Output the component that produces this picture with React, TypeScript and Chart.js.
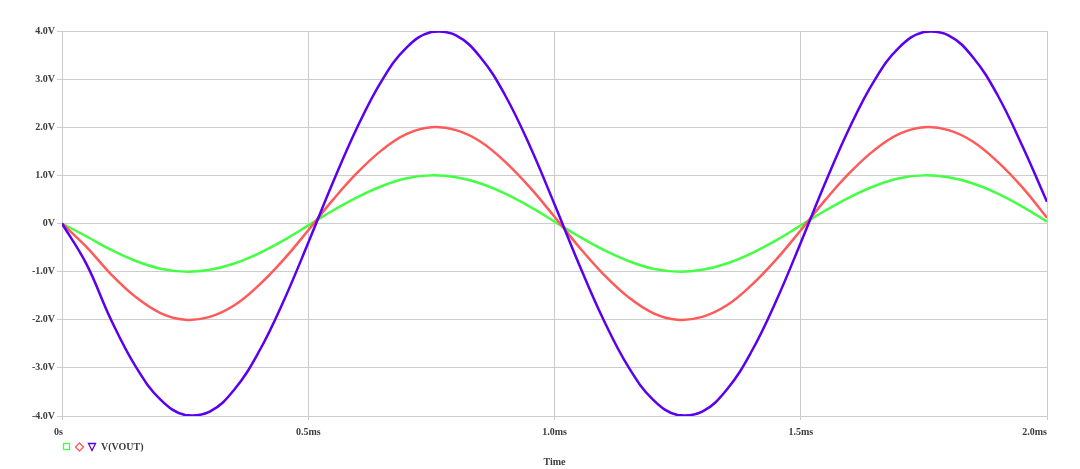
import React, { useEffect, useRef } from "react";
import { Chart, registerables } from "chart.js";

Chart.register(...registerables);

const timeMs = [
  0, 0.05, 0.1, 0.15, 0.2, 0.25, 0.3, 0.35, 0.4, 0.45, 0.5,
  0.55, 0.6, 0.65, 0.7, 0.75, 0.8, 0.85, 0.9, 0.95, 1.0,
  1.05, 1.1, 1.15, 1.2, 1.25, 1.3, 1.35, 1.4, 1.45, 1.5,
  1.55, 1.6, 1.65, 1.7, 1.75, 1.8, 1.85, 1.9, 1.95, 2.0,
];

const vGreen = [
  0, -0.27, -0.55, -0.78, -0.94, -1.0, -0.96, -0.83, -0.62, -0.35, -0.04,
  0.27, 0.55, 0.78, 0.94, 1.0, 0.96, 0.83, 0.62, 0.35, 0.04,
  -0.27, -0.55, -0.78, -0.94, -1.0, -0.96, -0.83, -0.62, -0.35, -0.04,
  0.27, 0.55, 0.78, 0.94, 1.0, 0.96, 0.83, 0.62, 0.35, 0.04,
];

const vRed = [
  0, -0.49, -1.06, -1.53, -1.86, -2.0, -1.94, -1.7, -1.28, -0.75, -0.14,
  0.49, 1.06, 1.53, 1.86, 2.0, 1.94, 1.7, 1.28, 0.75, 0.14,
  -0.49, -1.06, -1.53, -1.86, -2.0, -1.94, -1.7, -1.28, -0.75, -0.14,
  0.49, 1.06, 1.53, 1.86, 2.0, 1.94, 1.7, 1.28, 0.75, 0.12,
];

const vBlue = [
  0, -0.85, -2.01, -2.98, -3.66, -3.98, -3.91, -3.45, -2.66, -1.61, -0.4,
  0.85, 2.01, 2.98, 3.66, 3.98, 3.91, 3.45, 2.66, 1.61, 0.4,
  -0.85, -2.01, -2.98, -3.66, -3.98, -3.91, -3.45, -2.66, -1.61, -0.4,
  0.85, 2.01, 2.98, 3.66, 3.98, 3.91, 3.45, 2.66, 1.61, 0.45,
];

const xTickValues = [0, 0.5, 1.0, 1.5, 2.0];
const xTickLabels = ["0s", "0.5ms", "1.0ms", "1.5ms", "2.0ms"];
const yTickValues = [-4, -3, -2, -1, 0, 1, 2, 3, 4];
const yTickLabels = ["-4.0V", "-3.0V", "-2.0V", "-1.0V", "0V", "1.0V", "2.0V", "3.0V", "4.0V"];
const xAxisTitle = "Time";
const legendText = "V(VOUT)";

const GREEN = "#44ff44";
const RED = "#ff5a5a";
const BLUE = "#5a00f0";
const GRID = "#cccccc";
const TEXT = "#3c3c3c";
const FONT = "bold 10px 'Liberation Serif', 'DejaVu Serif', serif";

export default function App() {
  const ref = useRef<HTMLCanvasElement | null>(null);

  useEffect(() => {
    if (!ref.current) return;
    const toPts = (ys: number[]) => timeMs.map((t, i) => ({ x: t, y: ys[i] }));

    const overlay = {
      id: "overlay",
      afterDraw(chart: any) {
        const ctx = chart.ctx;
        const xs = chart.scales.x;
        const area = chart.chartArea;
        ctx.save();
        ctx.font = FONT;
        ctx.fillStyle = TEXT;
        ctx.textBaseline = "middle";
        xTickValues.forEach((v, i) => {
          const px = xs.getPixelForValue(v);
          if (i === 0) ctx.textAlign = "right";
          else if (i === xTickValues.length - 1) ctx.textAlign = "right";
          else ctx.textAlign = "center";
          const dx = i === 0 ? 1 : 0;
          ctx.fillText(xTickLabels[i], px + dx, area.bottom + 16);
        });
        // title
        ctx.textAlign = "center";
        ctx.fillText(xAxisTitle, (area.left + area.right) / 2, 462);
        // legend
        const ly = 447;
        ctx.lineWidth = 1.3;
        ctx.strokeStyle = GREEN;
        ctx.strokeRect(63.5, ly - 3.5, 6, 6);
        ctx.strokeStyle = RED;
        ctx.beginPath();
        ctx.moveTo(79.5, ly - 4);
        ctx.lineTo(83.5, ly);
        ctx.lineTo(79.5, ly + 4);
        ctx.lineTo(75.5, ly);
        ctx.closePath();
        ctx.stroke();
        ctx.strokeStyle = BLUE;
        ctx.beginPath();
        ctx.moveTo(88.5, ly - 3.5);
        ctx.lineTo(95.5, ly - 3.5);
        ctx.lineTo(92, ly + 3.5);
        ctx.closePath();
        ctx.stroke();
        ctx.textAlign = "left";
        ctx.fillStyle = TEXT;
        ctx.fillText(legendText, 101, ly);
        ctx.restore();
      },
    };

    const ds = (label: string, ys: number[], color: string) => ({
      label,
      data: toPts(ys),
      borderColor: color,
      borderWidth: 2.5,
      pointRadius: 0,
      tension: 0.4,
    });

    const chart = new Chart(ref.current, {
      type: "line",
      data: {
        datasets: [ds("blue", vBlue, BLUE), ds("red", vRed, RED), ds("green", vGreen, GREEN)],
      },
      options: {
        animation: false,
        responsive: false,
        devicePixelRatio: 1,
        layout: { padding: { top: 31, right: 33, left: 0, bottom: 0 } },
        plugins: { legend: { display: false }, tooltip: { enabled: false } },
        scales: {
          x: {
            type: "linear",
            min: 0,
            max: 2,
            afterBuildTicks: (s: any) => {
              s.ticks = xTickValues.map((v) => ({ value: v }));
            },
            afterFit: (s: any) => {
              s.height = 53;
            },
            ticks: { display: false },
            grid: { color: GRID, tickLength: 4, lineWidth: 1 },
            border: { color: GRID },
          },
          y: {
            type: "linear",
            min: -4,
            max: 4,
            afterBuildTicks: (s: any) => {
              s.ticks = yTickValues.map((v) => ({ value: v }));
            },
            afterFit: (s: any) => {
              s.width = 62;
            },
            ticks: {
              color: TEXT,
              font: { family: "'Liberation Serif', 'DejaVu Serif', serif", size: 10, weight: "bold" },
              padding: 2,
              callback: (v: any) => {
                const idx = yTickValues.indexOf(Number(v));
                return idx >= 0 ? yTickLabels[idx] : "";
              },
            },
            grid: { color: GRID, tickLength: 5, lineWidth: 1 },
            border: { color: GRID },
          },
        },
      },
      plugins: [overlay],
    } as any);

    return () => chart.destroy();
  }, []);

  return (
    <div style={{ position: "absolute", left: 0, top: 0, width: 1080, height: 469, background: "#ffffff" }}>
      <canvas ref={ref} width={1080} height={469} style={{ display: "block" }} />
    </div>
  );
}
